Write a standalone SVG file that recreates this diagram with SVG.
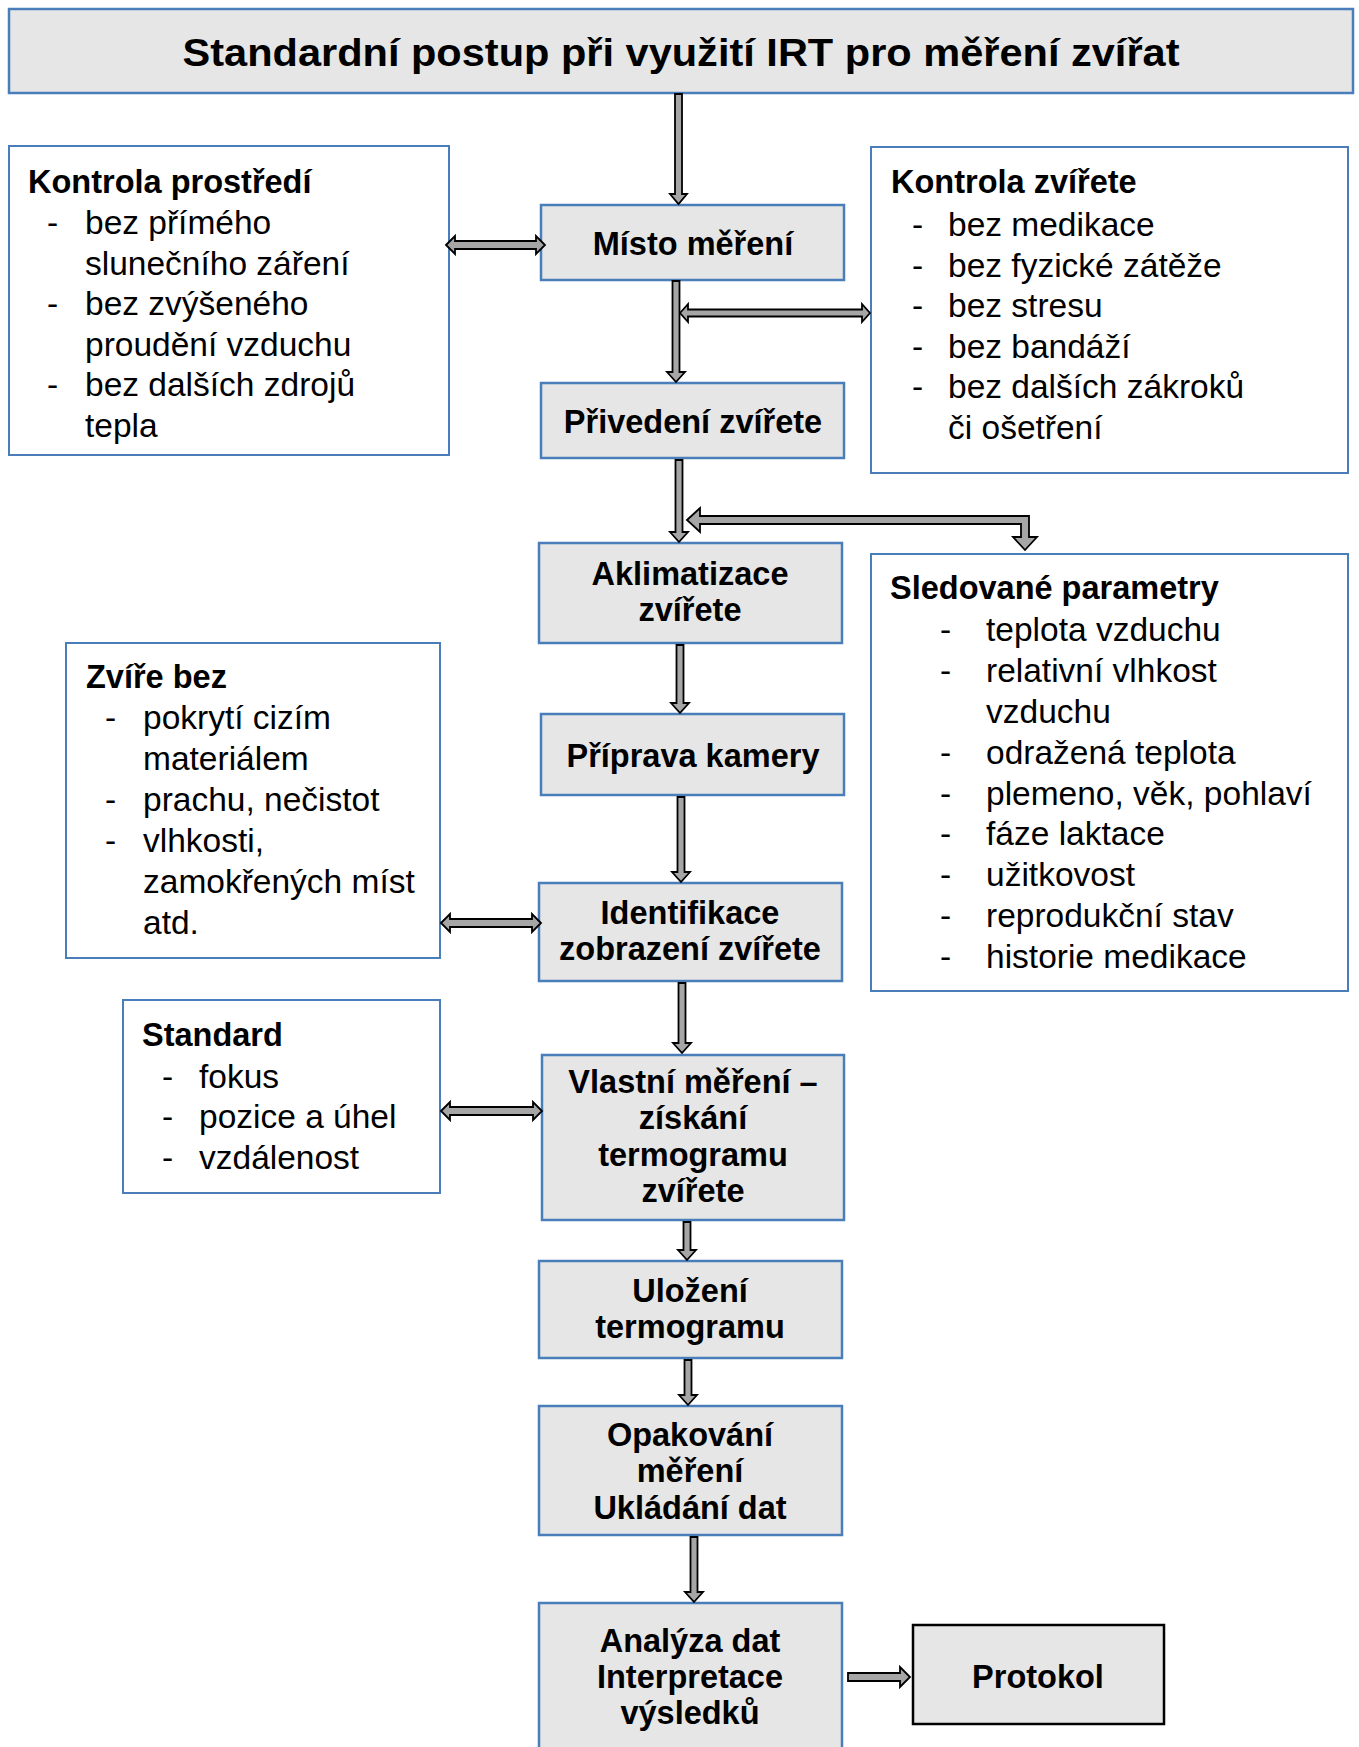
<svg xmlns="http://www.w3.org/2000/svg" width="1359" height="1747" viewBox="0 0 1359 1747">
<style>
text{font-family:"Liberation Sans",Arial,sans-serif;fill:#000}
.h{font-weight:bold;font-size:32.5px}
.n{font-weight:bold;font-size:32.5px;text-anchor:middle}
.b{font-size:33.5px}
.node{fill:#e6e6e6;stroke:#4a7ebb;stroke-width:2.5}
.info{fill:#fff;stroke:#4a7ebb;stroke-width:2}
.proto{fill:#e6e6e6;stroke:#000;stroke-width:2.5}
.arr{fill:#a6a6a6;stroke:#000;stroke-width:1.8;stroke-linejoin:miter}
</style>
<rect width="1359" height="1747" fill="#fff"/>

<g id="title">
<rect class="node" x="9" y="9" width="1344" height="84"/>
<text x="681" y="66" font-weight="bold" font-size="38" text-anchor="middle" textLength="997" lengthAdjust="spacingAndGlyphs">Standardní postup při využití IRT pro měření zvířat</text>
</g>

<g id="kontrola-prostredi">
<rect class="info" x="9" y="146" width="440" height="309"/>
<text class="h" x="28" y="193">Kontrola prostředí</text>
<text class="b" x="47" y="234">-</text><text class="b" x="85" y="234">bez přímého</text>
<text class="b" x="85" y="275">slunečního záření</text>
<text class="b" x="47" y="315">-</text><text class="b" x="85" y="315">bez zvýšeného</text>
<text class="b" x="85" y="356">proudění vzduchu</text>
<text class="b" x="47" y="396">-</text><text class="b" x="85" y="396">bez dalších zdrojů</text>
<text class="b" x="85" y="437">tepla</text>
</g>

<g id="kontrola-zvirete">
<rect class="info" x="871" y="147" width="477" height="326"/>
<text class="h" x="891" y="193">Kontrola zvířete</text>
<text class="b" x="912" y="236">-</text><text class="b" x="948" y="236">bez medikace</text>
<text class="b" x="912" y="277">-</text><text class="b" x="948" y="277">bez fyzické zátěže</text>
<text class="b" x="912" y="317">-</text><text class="b" x="948" y="317">bez stresu</text>
<text class="b" x="912" y="358">-</text><text class="b" x="948" y="358">bez bandáží</text>
<text class="b" x="912" y="398">-</text><text class="b" x="948" y="398">bez dalších zákroků</text>
<text class="b" x="948" y="439">či ošetření</text>
</g>

<g id="sledovane-parametry">
<rect class="info" x="871" y="554" width="477" height="437"/>
<text class="h" x="890" y="599">Sledované parametry</text>
<text class="b" x="940" y="641">-</text><text class="b" x="986" y="641">teplota vzduchu</text>
<text class="b" x="940" y="682">-</text><text class="b" x="986" y="682">relativní vlhkost</text>
<text class="b" x="986" y="723">vzduchu</text>
<text class="b" x="940" y="764">-</text><text class="b" x="986" y="764">odražená teplota</text>
<text class="b" x="940" y="805">-</text><text class="b" x="986" y="805">plemeno, věk, pohlaví</text>
<text class="b" x="940" y="845">-</text><text class="b" x="986" y="845">fáze laktace</text>
<text class="b" x="940" y="886">-</text><text class="b" x="986" y="886">užitkovost</text>
<text class="b" x="940" y="927">-</text><text class="b" x="986" y="927">reprodukční stav</text>
<text class="b" x="940" y="968">-</text><text class="b" x="986" y="968">historie medikace</text>
</g>

<g id="zvire-bez">
<rect class="info" x="66" y="643" width="374" height="315"/>
<text class="h" x="86" y="688">Zvíře bez</text>
<text class="b" x="105" y="729">-</text><text class="b" x="143" y="729">pokrytí cizím</text>
<text class="b" x="143" y="770">materiálem</text>
<text class="b" x="105" y="811">-</text><text class="b" x="143" y="811">prachu, nečistot</text>
<text class="b" x="105" y="852">-</text><text class="b" x="143" y="852">vlhkosti,</text>
<text class="b" x="143" y="893">zamokřených míst</text>
<text class="b" x="143" y="934">atd.</text>
</g>

<g id="standard">
<rect class="info" x="123" y="1000" width="317" height="193"/>
<text class="h" x="142" y="1046">Standard</text>
<text class="b" x="162" y="1088">-</text><text class="b" x="199" y="1088">fokus</text>
<text class="b" x="162" y="1128">-</text><text class="b" x="199" y="1128">pozice a úhel</text>
<text class="b" x="162" y="1169">-</text><text class="b" x="199" y="1169">vzdálenost</text>
</g>

<g id="misto-mereni">
<rect class="node" x="541" y="205" width="303" height="75"/>
<text class="n" x="693" y="255">Místo měření</text>
</g>

<g id="privedeni-zvirete">
<rect class="node" x="541" y="383" width="303" height="75"/>
<text class="n" x="693" y="433">Přivedení zvířete</text>
</g>

<g id="aklimatizace">
<rect class="node" x="539" y="543" width="303" height="100"/>
<text class="n" x="690" y="585">Aklimatizace</text>
<text class="n" x="690" y="621">zvířete</text>
</g>

<g id="priprava-kamery">
<rect class="node" x="541" y="714" width="303" height="81"/>
<text class="n" x="693" y="767">Příprava kamery</text>
</g>

<g id="identifikace">
<rect class="node" x="539" y="883" width="303" height="98"/>
<text class="n" x="690" y="924">Identifikace</text>
<text class="n" x="690" y="960">zobrazení zvířete</text>
</g>

<g id="vlastni-mereni">
<rect class="node" x="542" y="1055" width="302" height="165"/>
<text class="n" x="693" y="1093">Vlastní měření –</text>
<text class="n" x="693" y="1129">získání</text>
<text class="n" x="693" y="1166">termogramu</text>
<text class="n" x="693" y="1202">zvířete</text>
</g>

<g id="ulozeni">
<rect class="node" x="539" y="1261" width="303" height="97"/>
<text class="n" x="690" y="1302">Uložení</text>
<text class="n" x="690" y="1338">termogramu</text>
</g>

<g id="opakovani">
<rect class="node" x="539" y="1406" width="303" height="129"/>
<text class="n" x="690" y="1446">Opakování</text>
<text class="n" x="690" y="1482">měření</text>
<text class="n" x="690" y="1519">Ukládání dat</text>
</g>

<g id="analyza">
<rect class="node" x="539" y="1603" width="303" height="160"/>
<text class="n" x="690" y="1652">Analýza dat</text>
<text class="n" x="690" y="1688">Interpretace</text>
<text class="n" x="690" y="1724">výsledků</text>
</g>

<g id="protokol">
<rect class="proto" x="913" y="1625" width="251" height="99"/>
<text class="n" x="1038" y="1688">Protokol</text>
</g>

<g id="connectors">
<polygon class="arr" points="675,94 682,94 682,194 687,194 678.5,204 670,194 675,194"/>
<polygon class="arr" points="446,245 455,236 455,241 536,241 536,236 545,245 536,254 536,249 455,249 455,254"/>
<polygon class="arr" points="672.5,281 679.5,281 679.5,372 685,372 676,382 667,372 672.5,372"/>
<polygon class="arr" points="680,313 688,304 688,309.5 862,309.5 862,304 870,313 862,322 862,316.5 688,316.5 688,322"/>
<polygon class="arr" points="675.5,460 682.5,460 682.5,532 688,532 679,542 670,532 675.5,532"/>
<polygon class="arr" points="687,520 700,508 700,516 1029,516 1029,537 1037,537 1025,550 1013,537 1021,537 1021,524 700,524 700,532"/>
<polygon class="arr" points="676.5,645 683.5,645 683.5,703 689,703 680,713 671,703 676.5,703"/>
<polygon class="arr" points="677.5,797 684.5,797 684.5,872 690,872 681,882 672,872 677.5,872"/>
<polygon class="arr" points="441,923 450,914 450,919 532,919 532,914 541,923 532,932 532,927 450,927 450,932"/>
<polygon class="arr" points="678.5,983 685.5,983 685.5,1043 691,1043 682,1053 673,1043 678.5,1043"/>
<polygon class="arr" points="441,1111 450,1102 450,1107 533,1107 533,1102 542,1111 533,1120 533,1115 450,1115 450,1120"/>
<polygon class="arr" points="683.5,1222 690.5,1222 690.5,1250 696,1250 687,1260 678,1250 683.5,1250"/>
<polygon class="arr" points="684.5,1360 691.5,1360 691.5,1395 697,1395 688,1405 679,1395 684.5,1395"/>
<polygon class="arr" points="690.5,1537 697.5,1537 697.5,1592 703,1592 694,1602 685,1592 690.5,1592"/>
<polygon class="arr" points="848,1673 900,1673 900,1667 910,1677 900,1687 900,1681 848,1681"/>
</g>
</svg>
